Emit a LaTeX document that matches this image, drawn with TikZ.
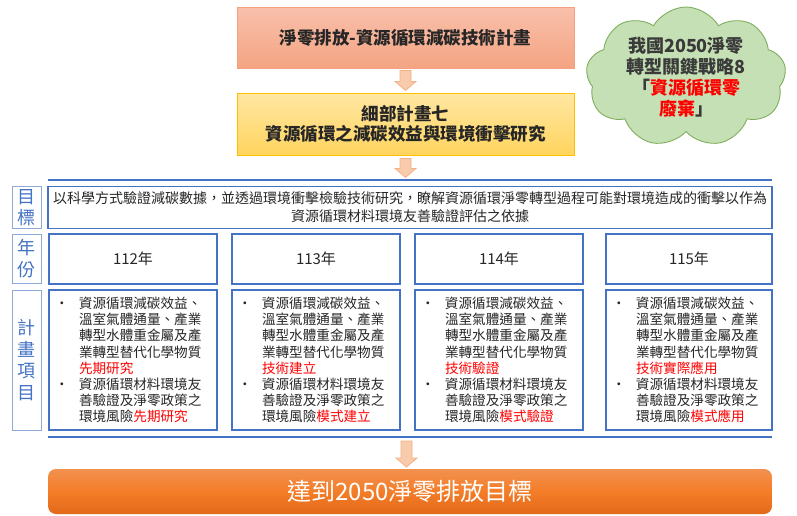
\documentclass[tikz,border=0pt]{standalone}
\usepackage{fontspec}
\setmainfont{Noto Sans CJK TC}
\usetikzlibrary{shapes.symbols,calc}
\definecolor{boxblue}{HTML}{4472C4}
\definecolor{lblblue}{HTML}{8EAADB}
\definecolor{txtgray}{HTML}{262626}
\definecolor{redtxt}{HTML}{FF0000}
\definecolor{arrfill}{HTML}{F8CBAD}
\definecolor{arrdraw}{HTML}{F4B183}
\definecolor{cloudfill}{HTML}{C5E0B4}
\definecolor{clouddraw}{HTML}{7FAF5E}
\definecolor{cloudtxt}{HTML}{3A3A3A}
\definecolor{salmontop}{HTML}{F9C0AC}
\definecolor{salmonbot}{HTML}{F4A482}
\definecolor{salmondraw}{HTML}{F4A07E}
\definecolor{yeltop}{HTML}{FFE7A3}
\definecolor{yelbot}{HTML}{FFD45E}
\definecolor{yeldraw}{HTML}{FFC000}
\definecolor{orgtop}{HTML}{F2914F}
\definecolor{orgmid}{HTML}{F47D28}
\definecolor{orgbot}{HTML}{E2691A}
\newcommand\planitems[2]{%
\makebox[24pt][l]{•}資源循環減碳效益、\\
\makebox[24pt]{}溫室氣體通量、產業\\
\makebox[24pt]{}轉型水體重金屬及產\\
\makebox[24pt]{}業轉型替代化學物質\\
\makebox[24pt]{}\textcolor{redtxt}{#1}\\
\makebox[24pt][l]{•}資源循環材料環境友\\
\makebox[24pt]{}善驗證及淨零政策之\\
\makebox[24pt]{}環境風險\textcolor{redtxt}{#2}}
\tikzset{
  titlebox/.style={minimum width=337pt, minimum height=61pt, inner sep=0pt, align=center,
    text=txtgray, line width=0.8pt, font=\fontsize{17.5}{20}\selectfont\bfseries},
  lblbox/.style={draw=lblblue, line width=1pt, minimum width=29pt, inner sep=0pt,
    align=center, text=boxblue, font=\fontsize{18}{21.5}\selectfont},
  yearbox/.style={draw=boxblue, line width=1.6pt, minimum height=50pt, inner sep=0pt,
    text=txtgray, font=\fontsize{15}{18}\selectfont},
  itembox/.style={draw=boxblue, line width=1.6pt, minimum height=140pt, text width=156pt,
    inner xsep=6pt, inner ysep=0pt, align=left, text=txtgray,
    font=\fontsize{13.6}{16.2}\selectfont},
  sepline/.style={draw=boxblue, line width=1.2pt},
  arrowst/.style={draw=arrdraw, fill=arrfill, line width=0.8pt, line join=miter},
  pics/darrow/.style={code={
    \draw[arrowst] (-5.5,0) -- (5.5,0) -- (5.5,{#1-9}) -- (10.5,{#1-9}) -- (0,#1)
      -- (-10.5,{#1-9}) -- (-5.5,{#1-9}) -- cycle;}}
}
\begin{document}
\begin{tikzpicture}[x=1pt,y=-1pt]
\useasboundingbox (0,0) rectangle (797,515);
\fill[white] (0,0) rectangle (797,515);

% title boxes
\node[titlebox, draw=salmondraw, top color=salmontop, bottom color=salmonbot]
  (top) at (405.5,37.5) {淨零排放-資源循環減碳技術計畫};
\node[titlebox, minimum height=62pt, draw=yeldraw, top color=yeltop, bottom color=yelbot]
  (sub) at (405.5,124) {細部計畫七\\資源循環之減碳效益與環境衝擊研究};

% cloud
\node[cloud, cloud puffs=9, cloud puff arc=120, cloud ignores aspect,
  minimum width=200pt, minimum height=140pt, inner sep=0pt,
  draw=clouddraw, line width=0.9pt, fill=cloudfill, align=center, text=cloudtxt,
  font=\fontsize{18}{21}\selectfont\bfseries]
  (cloud) at (686,77) {我國2050淨零\\轉型關鍵戰略8\\「\textcolor{redtxt}{資源循環零}\\\textcolor{redtxt}{廢棄}」};

% separators
\coordinate (s1a) at (48,180);
\coordinate (s1b) at (772,180);
\coordinate (s2a) at (48,437);
\coordinate (s2b) at (772,437);
\draw[sepline] (s1a) -- (s1b);
\draw[sepline] (s2a) -- (s2b);

% goal row
\node[lblbox, minimum height=42pt] (lgoal) at (26.5,207.5) {目\\標};
\node[draw=boxblue, line width=1.6pt, minimum width=724pt, minimum height=42pt,
  inner sep=0pt, align=center, text=txtgray, font=\fontsize{14}{18}\selectfont]
  (goal) at (410,207.5)
  {以科學方式驗證減碳數據，並透過環境衝擊檢驗技術研究，瞭解資源循環淨零轉型過程可能對環境造成的衝擊以作為\\資源循環材料環境友善驗證評估之依據};

% year row
\node[lblbox, minimum height=49pt] (lyear) at (26.5,258.5) {年\\份};
\node[yearbox, minimum width=168pt] (y1) at (133,259) {112年};
\node[yearbox, minimum width=168pt] (y2) at (316,259) {113年};
\node[yearbox, minimum width=168pt] (y3) at (499,259) {114年};
\node[yearbox, minimum width=166pt] (y4) at (689,259) {115年};

% items row
\node[lblbox, minimum height=140pt] (litem) at (26.5,360) {計\\畫\\項\\目};
\node[itembox] (i1) at (133,360) {\planitems{先期研究}{先期研究}};
\node[itembox] (i2) at (316,360) {\planitems{技術建立}{模式建立}};
\node[itembox] (i3) at (499,360) {\planitems{技術驗證}{模式驗證}};
\node[itembox, text width=154pt] (i4) at (689,360) {\planitems{技術實際應用}{模式應用}};

% final box
\node[rounded corners=8pt, minimum width=724pt, minimum height=45pt, inner sep=0pt,
  top color=orgtop, bottom color=orgbot, middle color=orgmid, text=white,
  font=\fontsize{24}{27}\selectfont] (final) at (410,491.5) {達到2050淨零排放目標};

% arrows
\pic at ($(top.south)+(0,2)$) {darrow=20};
\pic at ($(sub.south)+(0,3)$) {darrow=19};
\pic at ($(top.south |- s2a)+(1,4)$) {darrow=26};
\end{tikzpicture}
\end{document}
